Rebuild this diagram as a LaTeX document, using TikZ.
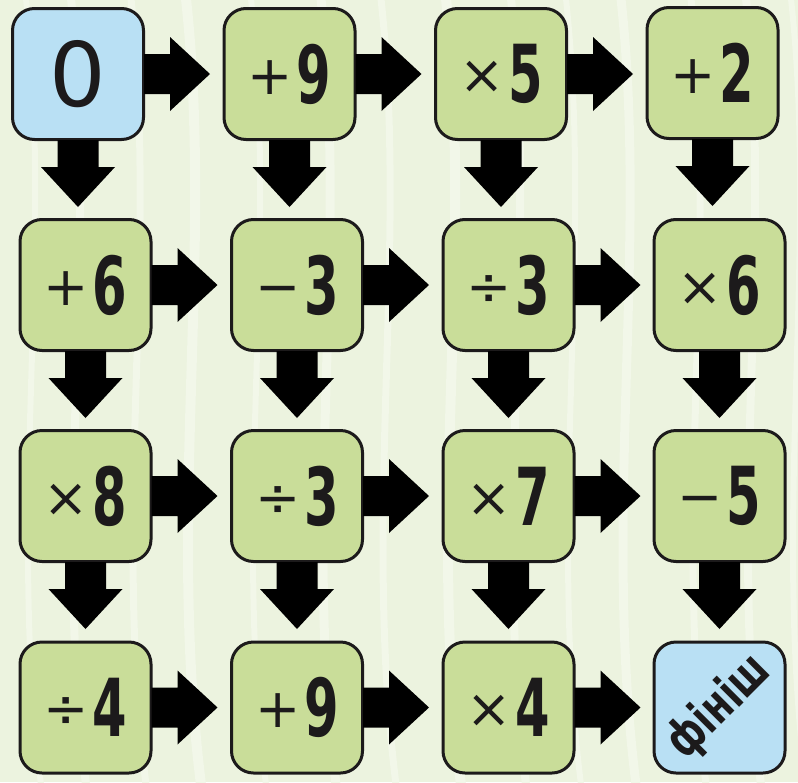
\documentclass[tikz,border=0pt]{standalone}
\usepackage{fontspec}
\setmainfont{DejaVu Sans}
\newfontfamily\digitfamily[FakeStretch=0.62]{DejaVu Sans}
\newfontfamily\finfamily[FakeStretch=0.72]{DejaVu Sans}
\newfontfamily\opfamily{DejaVu Sans}
\newcommand\dg[1]{{\fontsize{80}{82}\digitfamily\bfseries #1}}
\newcommand\opr[1]{\raisebox{9pt}{\fontsize{54}{56}\opfamily #1}\hspace{4pt}}
\definecolor{bgc}{HTML}{ECF3DF}
\definecolor{stripec}{HTML}{F2F7E9}
\definecolor{greenc}{HTML}{C9DD99}
\definecolor{bluec}{HTML}{B9E0F4}
\definecolor{edgec}{HTML}{1C1A1B}
\tikzset{
  tile/.style={draw=edgec, line width=3pt, rounded corners=22pt, minimum size=131pt, inner sep=0pt, text=edgec},
  greentile/.style={tile, fill=greenc},
  bluetile/.style={tile, fill=bluec},
  stripe/.style={draw=stripec},
}
\newcommand\harrow[1]{\fill[black, shift={(#1.east)}] (-1,-20) -- (25,-20) -- (25,-37) -- (65,0) -- (25,37) -- (25,20) -- (-1,20) -- cycle;}
\newcommand\varrow[1]{\fill[black, shift={(#1.south)}] (-20.5,-1) -- (-20.5,26) -- (-37,26) -- (0,66) -- (37,26) -- (20.5,26) -- (20.5,-1) -- cycle;}
\begin{document}
\begin{tikzpicture}[x=1pt,y=-1pt]
\useasboundingbox (0,0) rectangle (798,782);
\fill[bgc] (0,0) rectangle (798,782);
\begin{scope}
\clip (0,0) rectangle (798,782);
\foreach \x/\w in {25/6,70/8,130/7,185/10,250/6,320/9,380/7,445/10,510/8,565/6,620/9,690/7,745/8,790/6}{
  \draw[stripe, line width=\w pt] (\x,-10) .. controls (\x+30,250) and (\x-20,520) .. (\x+18,800);
}
\end{scope}
% row 1
\node[bluetile]  (b11) at (78,74)    {\fontsize{89}{90}\selectfont 0};
\node[greentile] (b12) at (289.5,74) {\opr{+}\dg{9}};
\node[greentile] (b13) at (501,74)   {\opr{×}\dg{5}};
\node[greentile] (b14) at (712.5,73) {\opr{+}\dg{2}};
% row 2
\node[greentile] (b21) at (85.5,285)  {\opr{+}\dg{6}};
\node[greentile] (b22) at (297,285)   {\opr{−}\dg{3}};
\node[greentile] (b23) at (508.5,285) {\opr{÷}\dg{3}};
\node[greentile] (b24) at (719.5,285) {\opr{×}\dg{6}};
% row 3
\node[greentile] (b31) at (85.5,496)  {\opr{×}\dg{8}};
\node[greentile] (b32) at (297,496)   {\opr{÷}\dg{3}};
\node[greentile] (b33) at (508.5,496) {\opr{×}\dg{7}};
\node[greentile] (b34) at (719.5,496) {\opr{−}\dg{5}};
% row 4
\node[greentile] (b41) at (85.5,707.5)  {\opr{÷}\dg{4}};
\node[greentile] (b42) at (297,707.5)   {\opr{+}\dg{9}};
\node[greentile] (b43) at (508.5,707.5) {\opr{×}\dg{4}};
\node[bluetile]  (b44) at (719.5,707.5) {};
\node[rotate=45, text=edgec, inner sep=0pt] (fin) at (b44.center) {\fontsize{50}{52}\finfamily\bfseries фініш};
% horizontal arrows
\foreach \r in {1,2,3,4}{
  \foreach \c in {1,2,3}{ \harrow{b\r\c} }
}
% vertical arrows
\foreach \r in {1,2,3}{
  \foreach \c in {1,2,3,4}{ \varrow{b\r\c} }
}
\end{tikzpicture}
\end{document}
